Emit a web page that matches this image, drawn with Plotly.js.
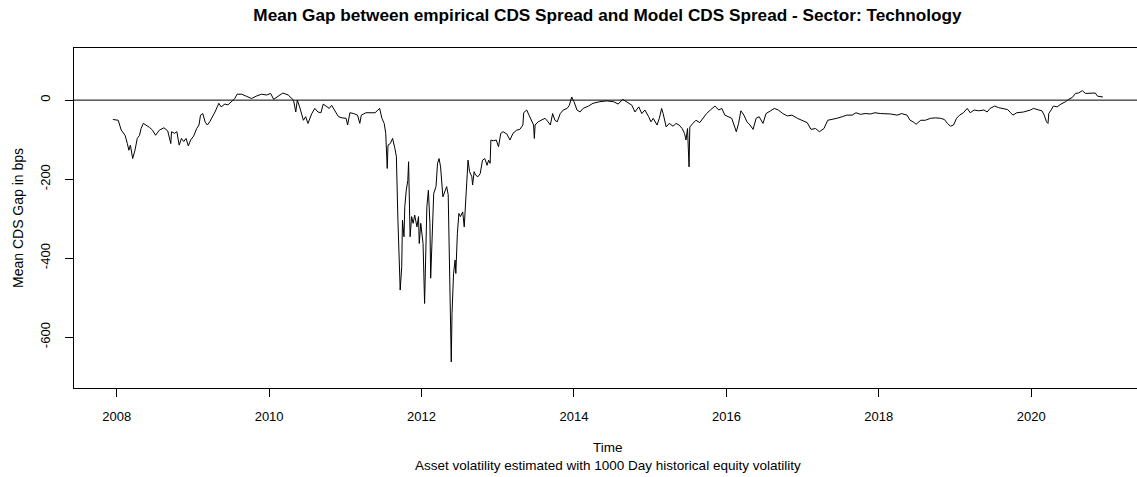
<!DOCTYPE html>
<html>
<head>
<meta charset="utf-8">
<script src="https://cdn.plot.ly/plotly-3.0.1.min.js"></script>
<style>
html, body { margin: 0; padding: 0; background: #fff; overflow: hidden; }
#chart { width: 1142px; height: 477px; }
</style>
</head>
<body>
<div id="chart"></div>
<script>
// Time in decimal years
const years = [
2007.95,2008.02,2008.06,2008.11,2008.14,2008.16,2008.18,2008.21,2008.24,2008.27,
2008.30,2008.32,2008.35,2008.39,2008.43,2008.47,2008.51,2008.56,2008.62,2008.67,
2008.71,2008.72,2008.76,2008.79,2008.82,2008.85,2008.88,2008.91,2008.94,2008.97,
2009.01,2009.05,2009.08,2009.10,2009.13,2009.16,2009.19,2009.22,2009.26,2009.29,
2009.32,2009.34,2009.37,2009.42,2009.46,2009.51,2009.55,2009.58,2009.64,2009.70,
2009.77,2009.83,2009.90,2009.97,2010.02,2010.06,2010.12,2010.18,2010.25,2010.32,
2010.35,2010.37,2010.40,2010.45,2010.48,2010.51,2010.56,2010.60,2010.64,2010.68,
2010.71,2010.75,2010.79,2010.82,2010.86,2010.91,2010.96,2011.01,2011.03,2011.06,
2011.11,2011.16,2011.19,2011.21,2011.27,2011.35,2011.39,2011.45,2011.48,2011.51,
2011.53,2011.55,2011.56,2011.59,2011.62,2011.65,2011.67,2011.69,2011.71,2011.72,
2011.74,2011.75,2011.77,2011.78,2011.80,2011.82,2011.83,2011.85,2011.87,2011.89,
2011.91,2011.94,2011.96,2011.97,2011.99,2012.01,2012.02,2012.04,2012.06,2012.07,
2012.09,2012.11,2012.12,2012.15,2012.16,2012.19,2012.21,2012.23,2012.25,2012.28,
2012.31,2012.33,2012.35,2012.37,2012.39,2012.40,2012.42,2012.44,2012.45,2012.47,
2012.49,2012.51,2012.54,2012.56,2012.57,2012.59,2012.61,2012.63,2012.66,2012.67,
2012.69,2012.71,2012.74,2012.77,2012.80,2012.83,2012.86,2012.88,2012.90,2012.91,
2012.94,2012.98,2013.01,2013.04,2013.07,2013.12,2013.16,2013.20,2013.25,2013.29,
2013.33,2013.34,2013.38,2013.41,2013.45,2013.47,2013.48,2013.49,2013.53,2013.58,
2013.62,2013.66,2013.69,2013.72,2013.75,2013.78,2013.82,2013.86,2013.91,2013.94,
2013.97,2014.00,2014.04,2014.08,2014.12,2014.19,2014.25,2014.34,2014.43,2014.52,
2014.58,2014.64,2014.69,2014.76,2014.80,2014.85,2014.89,2014.93,2014.98,2015.01,
2015.04,2015.09,2015.12,2015.15,2015.17,2015.21,2015.25,2015.30,2015.34,2015.38,
2015.42,2015.45,2015.47,2015.49,2015.51,2015.52,2015.56,2015.60,2015.65,2015.69,
2015.74,2015.79,2015.85,2015.90,2015.94,2015.98,2016.03,2016.07,2016.10,2016.13,
2016.16,2016.19,2016.23,2016.27,2016.31,2016.35,2016.39,2016.43,2016.48,2016.52,
2016.58,2016.63,2016.68,2016.74,2016.80,2016.86,2016.93,2016.99,2017.06,2017.11,
2017.17,2017.22,2017.28,2017.33,2017.39,2017.45,2017.52,2017.58,2017.65,2017.70,
2017.76,2017.82,2017.89,2017.95,2018.02,2018.06,2018.15,2018.24,2018.30,2018.37,
2018.41,2018.45,2018.49,2018.55,2018.61,2018.68,2018.74,2018.81,2018.86,2018.90,
2018.94,2018.98,2019.02,2019.06,2019.11,2019.16,2019.20,2019.25,2019.31,2019.38,
2019.42,2019.46,2019.52,2019.57,2019.64,2019.69,2019.73,2019.76,2019.81,2019.90,
2019.99,2020.03,2020.10,2020.14,2020.17,2020.20,2020.22,2020.23,2020.26,2020.29,
2020.34,2020.39,2020.45,2020.49,2020.54,2020.58,2020.62,2020.67,2020.71,2020.76,
2020.80,2020.84,2020.87,2020.91,2020.94
];

// Mean CDS gap (bps)
const meanGap = [
-49,-51,-76,-89,-110,-127,-114,-148,-127,-97,
-89,-72,-59,-63,-69,-76,-89,-76,-70,-78,
-110,-80,-84,-80,-114,-97,-105,-97,-116,-101,
-91,-72,-63,-38,-34,-55,-63,-55,-42,-30,
-17,-8,-17,-10,-12,-4,4,15,15,10,
4,10,15,13,17,2,10,18,13,0,
-30,0,-17,-51,-42,-59,-34,-21,-30,-32,
-10,-15,-21,-13,-25,-42,-45,-46,-63,-32,
-34,-38,-59,-38,-32,-32,-32,-21,-46,-59,
-84,-173,-114,-110,-97,-122,-143,-304,-456,-481,
-422,-304,-346,-270,-228,-203,-156,-346,-295,-312,
-291,-321,-295,-363,-312,-338,-363,-515,-321,-270,
-228,-312,-451,-270,-236,-219,-160,-148,-169,-245,
-228,-219,-240,-422,-663,-540,-439,-405,-439,-338,
-287,-295,-283,-321,-283,-194,-152,-181,-194,-215,
-181,-190,-194,-186,-152,-148,-165,-152,-160,-101,
-103,-101,-118,-84,-80,-86,-101,-84,-76,-74,
-63,-32,-25,-38,-55,-63,-97,-63,-55,-51,
-46,-55,-63,-34,-51,-55,-34,-25,-21,-13,
8,-4,-25,-30,-21,-15,-8,-4,-2,-4,
-10,2,-4,-13,-30,-17,-34,-25,-42,-55,
-46,-63,-46,-21,-34,-68,-59,-66,-59,-63,
-72,-84,-101,-72,-169,-68,-59,-51,-57,-46,
-34,-25,-15,-25,-21,-38,-42,-46,-63,-80,
-59,-27,-38,-55,-63,-74,-46,-42,-59,-34,
-27,-21,-25,-34,-40,-38,-46,-51,-57,-74,
-72,-80,-72,-51,-49,-46,-42,-38,-38,-32,
-36,-34,-35,-32,-34,-34,-35,-38,-34,-38,
-51,-55,-61,-51,-51,-46,-45,-46,-49,-59,
-66,-63,-46,-38,-32,-21,-32,-25,-27,-25,
-30,-21,-15,-19,-21,-24,-32,-38,-32,-30,
-25,-21,-25,-27,-38,-55,-59,-34,-25,-15,
-17,-10,-4,2,7,17,18,24,17,18,
17,18,10,8,8
];

const xTicks = [2008, 2010, 2012, 2014, 2016, 2018, 2020];
const yTicks = [0, -200, -400, -600];

const FONT = '"Liberation Sans", Arial, Helvetica, sans-serif';

const trace = {
  x: years,
  y: meanGap,
  type: 'scatter',
  mode: 'lines',
  line: { color: '#000000', width: 1 },
  hoverinfo: 'x+y'
};

const layout = {
  width: 1142,
  height: 477,
  margin: { l: 74, r: 1, t: 48, b: 89 },
  paper_bgcolor: '#ffffff',
  plot_bgcolor: '#ffffff',
  showlegend: false,
  font: { family: FONT, size: 13, color: '#000000' },
  title: {
    text: 'Mean Gap between empirical CDS Spread and Model CDS Spread - Sector: Technology',
    font: { family: FONT, size: 17.2, color: '#000000', weight: 'bold' },
    xref: 'paper', x: 0.5, xanchor: 'center',
    yref: 'container', y: 1 - 15 / 477, yanchor: 'middle'
  },
  xaxis: {
    range: [2007.44, 2021.44],
    tickvals: xTicks,
    ticktext: xTicks.map(String),
    ticks: 'outside', ticklen: 8, tickwidth: 1, tickcolor: '#000000',
    ticklabelstandoff: 8,
    showgrid: false, zeroline: false,
    showline: true, linecolor: '#000000', linewidth: 1, mirror: true,
    tickfont: { family: FONT, size: 13, color: '#000000' }
  },
  yaxis: {
    range: [-729, 132],
    tickvals: yTicks,
    ticktext: yTicks.map(String),
    tickangle: -90,
    ticks: 'outside', ticklen: 8, tickwidth: 1, tickcolor: '#000000',
    ticklabelstandoff: 10,
    showgrid: false, zeroline: false,
    showline: true, linecolor: '#000000', linewidth: 1, mirror: true,
    tickfont: { family: FONT, size: 13, color: '#000000' }
  },
  shapes: [{
    type: 'line', xref: 'paper', x0: 0, x1: 1, yref: 'y', y0: 0, y1: 0,
    line: { color: '#000000', width: 1 }
  }],
  annotations: [
    { text: 'Time', xref: 'paper', x: 0.5, xanchor: 'center',
      yref: 'paper', y: (388 - 447) / 340, yanchor: 'middle', showarrow: false,
      font: { family: FONT, size: 13.5, color: '#000000' } },
    { text: 'Asset volatility estimated with 1000 Day historical equity volatility',
      xref: 'paper', x: 0.5, xanchor: 'center',
      yref: 'paper', y: (388 - 465) / 340, yanchor: 'middle', showarrow: false,
      font: { family: FONT, size: 13.5, color: '#000000' } },
    { text: 'Mean CDS Gap in bps', textangle: -90,
      xref: 'paper', x: (18 - 74) / 1067, xanchor: 'center',
      yref: 'paper', y: 0.5, yanchor: 'middle', showarrow: false,
      font: { family: FONT, size: 14, color: '#000000' } }
  ]
};

Plotly.newPlot('chart', [trace], layout, { displayModeBar: false, staticPlot: true });
</script>
</body>
</html>
